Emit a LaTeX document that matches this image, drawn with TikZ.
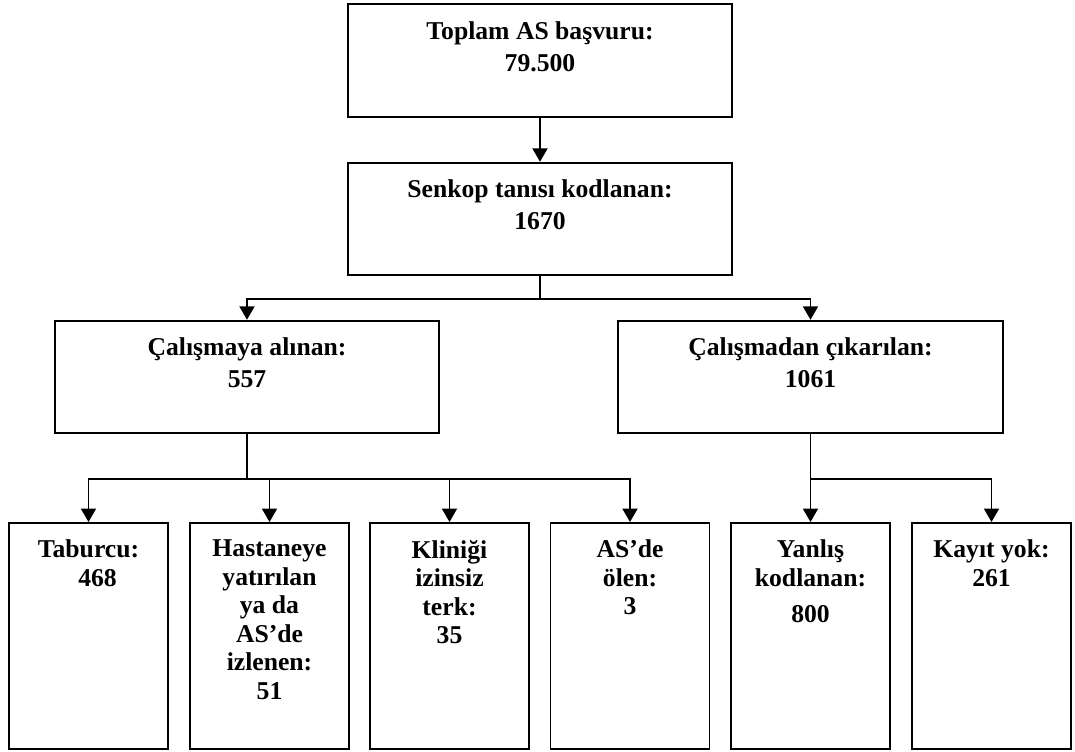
\documentclass[tikz,border=0pt]{standalone}
\usepackage{fontspec}
\setmainfont{Liberation Serif}
\usetikzlibrary{positioning, arrows.meta}

\begin{document}
\begin{tikzpicture}[
    line width=1.1pt,
    arrow/.style={
        -{Triangle[length=0.27cm, width=0.3cm]},
        line width=1.1pt
    },
    wide/.style={
        rectangle,
        draw,
        minimum width=7.68cm,
        minimum height=2.25cm,
        inner sep=0pt
    },
    tall/.style={
        rectangle,
        draw,
        minimum width=3.18cm,
        minimum height=4.52cm,
        inner sep=0pt
    },
    txt/.style={
        inner sep=0pt,
        align=center,
        font=\fontsize{14.6}{18.4}\selectfont\bfseries
    },
    txtsmall/.style={
        txt,
        font=\fontsize{14.6}{16.2}\selectfont\bfseries
    }
]
    \useasboundingbox (0,0) rectangle (21.5,-15.04);

    % Top
    \node[wide] (toplam) at (10.8,-1.21) {};
    \node[txt, below=0.34cm of toplam.north] (toplam-t) {Toplam AS başvuru:\\79.500};
    \node[wide] (senkop) at (10.8,-4.38) {};
    \node[txt, below=0.34cm of senkop.north] (senkop-t) {Senkop tanısı kodlanan:\\1670};

    % Second level
    \node[wide] (alinan) at (4.94,-7.54) {};
    \node[txt, below=0.34cm of alinan.north] (alinan-t) {Çalışmaya alınan:\\557};
    \node[wide, minimum width=7.7cm] (cikarilan) at (16.21,-7.54) {};
    \node[txt, below=0.34cm of cikarilan.north] (cikarilan-t) {Çalışmadan çıkarılan:\\1061};

    % Bottom row
    \node[tall] (taburcu) at (1.77,-12.72) {};
    \node[txtsmall, below=0.34cm of taburcu.north] (taburcu-t) {Taburcu:\\\hspace*{0.36cm}468};
    \node[tall] (hastane) at (5.39,-12.72) {};
    \node[txtsmall, below=0.34cm of hastane.north] (hastane-t) {Hastaneye\\yatırılan\\ya da\\AS’de\\izlenen:\\51};
    \node[tall] (klinik) at (8.99,-12.72) {};
    \node[txtsmall, below=0.34cm of klinik.north] (klinik-t) {Kliniği\\izinsiz\\terk:\\35};
    \node[tall] (olen) at (12.6,-12.72) {};
    \node[txtsmall, below=0.34cm of olen.north] (olen-t) {AS’de\\ölen:\\3};
    \node[tall] (yanlis) at (16.21,-12.72) {};
    \node[txtsmall, below=0.34cm of yanlis.north] (yanlis-t) {Yanlış\\kodlanan:\\[0.15cm]800};
    \node[tall] (kayit) at (19.83,-12.72) {};
    \node[txtsmall, below=0.34cm of kayit.north] (kayit-t) {Kayıt yok:\\261};

    \draw[arrow] (toplam) -- (senkop);
    \draw[arrow] (senkop.south) -- ++(0,-0.46) -| (alinan.north);
    \draw[arrow] (senkop.south) -- ++(0,-0.46) -| (cikarilan.north);

    \draw[arrow] (alinan.south) -- ++(0,-0.9) -| (taburcu.north);
    \draw[arrow] (alinan.south) -- ++(0,-0.9) -| (hastane.north);
    \draw[arrow] (alinan.south) -- ++(0,-0.9) -| (klinik.north);
    \draw[arrow] (alinan.south) -- ++(0,-0.9) -| (olen.north);

    \draw[arrow] (cikarilan.south) -- ++(0,-0.9) -| (yanlis.north);
    \draw[arrow] (cikarilan.south) -- ++(0,-0.9) -| (kayit.north);
\end{tikzpicture}
\end{document}
